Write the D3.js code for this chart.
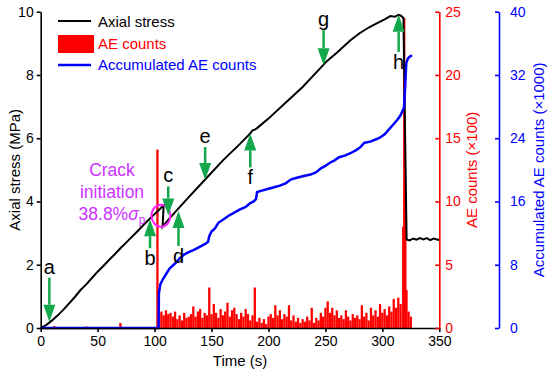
<!DOCTYPE html>
<html>
<head>
<meta charset="utf-8">
<script src="https://cdn.jsdelivr.net/npm/d3@7/dist/d3.min.js"></script>
<style>
  body { margin: 0; background: #fff; }
  svg { font-family: "Liberation Sans", Arial, sans-serif; }
</style>
</head>
<body>
<svg id="chart" width="550" height="371"></svg>
<script>
/* axial stress (MPa) vs time (s) */
var stressTime = [0,5,10,15,20,25,30,35,40,45,50,55,60,65,70,75,80,85,90,95,100,104,108,107,112,120,130,144,160,175,184,186,188,190,200,215,230,248,251,260,272,280,288,295,302,307,311,314,316,318.5,321.3,324,327,330,333,336,339,342,345,348,350];
var stressVal  = [0,0.1,0.24,0.4,0.58,0.78,0.98,1.2,1.38,1.58,1.78,1.96,2.15,2.33,2.52,2.7,2.88,3.06,3.25,3.43,3.6,3.74,3.88,3.2,3.42,3.74,4.14,4.68,5.3,5.82,6.15,6.25,6.27,6.32,6.62,7.12,7.62,8.31,8.43,8.7,9.1,9.32,9.5,9.63,9.76,9.86,9.84,9.9,9.88,9.8,2.8,2.77,2.83,2.79,2.84,2.8,2.84,2.78,2.83,2.8,2.78];

/* accumulated AE counts (x1000) */
var accTime = [0,103.5,103.8,105,107,110,113,116,119,122,126,130,135,140,144,147,148,150,153,156,160,165,170,175,180,184,187,189,190,195,200,205,210,215,220,225,230,237,242,246,250,254,258,262,267,272,277,281,284,290,295,298,302,305,307,310,313,316,319,320,321,322.5,324,326];
var accVal  = [0,0,4.4,5.5,6.1,6.8,7.5,7.9,8.3,8.8,9.3,9.6,9.9,10.3,10.6,10.9,11.6,12.2,12.6,13.3,13.7,14.2,14.6,15.0,15.3,15.8,16.0,16.3,17.2,17.4,17.6,17.8,18.0,18.3,18.8,19.0,19.2,19.4,19.7,20.2,20.5,20.9,21.2,21.6,21.8,22.1,22.5,22.9,23.4,23.6,23.9,24.1,24.5,25.0,25.3,25.8,26.3,26.9,27.9,30.5,33.5,34.1,34.3,34.5];

/* AE counts (x100) */
var aeTime = [12,40,70,102.5].concat(d3.range(104, 317, 2)).concat([318.3,319.2,320.2,321.2,323,325]);
var aeVal = [0.15,0.12,0.4,14.1,
  1.2,1.3,1.0,1.4,1.1,1.2,0.9,1.3,
  0.7,1.0,0.6,1.2,0.8,0.9,
  1.1,1.7,0.9,1.3,1.5,0.8,1.2,1.0,
  3.2,
  1.1,1.9,1.2,0.8,1.5,1.0,
  1.3,2.0,0.9,1.4,1.6,1.1,0.7,
  1.2,0.9,1.5,1.1,0.6,1.0,
  3.2,
  0.5,0.8,0.4,0.7,0.3,0.9,1.1,
  0.8,1.8,1.0,1.4,0.7,1.1,0.9,
  1.8,0.6,1.0,0.5,0.8,0.4,0.7,
  0.5,0.9,0.6,1.6,0.4,0.8,0.6,
  1.2,0.9,1.6,2.1,1.2,1.6,1.0,1.4,0.8,
  1.0,0.7,1.4,0.9,0.6,1.1,
  0.8,1.0,0.7,1.8,0.9,1.2,0.6,1.6,
  1.0,1.4,0.9,1.9,1.2,1.5,1.0,1.7,
  1.3,2.3,1.6,2.4,1.9,
  8.0,24.5,10.0,3.0,1.3,0.9];

var timeTicks = [0,50,100,150,200,250,300,350];
var stressTicks = [0,2,4,6,8,10];
var aeTicks = [0,5,10,15,20,25];
var accTicks = [0,8,16,24,32,40];

/* stage markers: time, stress at arrow tip, direction, shaft length */
var markLabel = ["a","b","c","d","e","f","g","h"];
var markTime  = [7.6,96,112,121,144.4,184,248.4,314.3];
var markStress= [0.2,3.44,3.56,3.7,4.68,6.15,8.31,9.9];
var markDir   = ["down","up","down","up","down","up","down","up"];
var markLen   = [44,29,29,35,33,34,35,37];

var svg = d3.select("#chart");
var plotL = 40.7, plotR = 439.3, plotT = 11.7, plotB = 328;

var x = d3.scaleLinear().domain([0, 350]).range([plotL, plotR]);
var yS = d3.scaleLinear().domain([0, 10]).range([plotB, plotT]);
var yR = d3.scaleLinear().domain([0, 25]).range([plotB, plotT]);
var yB = d3.scaleLinear().domain([0, 40]).range([plotB, plotT]);

var green = "#13a84c", magenta = "#cc33ff";
var barW = x(2) - x(0);

/* AE count bars */
svg.append("g").selectAll("rect")
    .data(aeTime)
  .enter().append("rect")
    .attr("x", function(d) { return x(d) - barW / 2; })
    .attr("width", barW)
    .attr("y", function(d, i) { return yR(aeVal[i]); })
    .attr("height", function(d, i) { return plotB - yR(aeVal[i]); })
    .attr("fill", "#ff0000");

/* stress line */
var stressLine = d3.line()
    .x(function(d) { return x(d); })
    .y(function(d, i) { return yS(stressVal[i]); });
svg.append("path")
    .attr("d", stressLine(stressTime))
    .attr("fill", "none")
    .attr("stroke", "#000")
    .attr("stroke-width", 2);

/* accumulated line */
var accLine = d3.line()
    .x(function(d) { return x(d); })
    .y(function(d, i) { return yB(accVal[i]); });
svg.append("path")
    .attr("d", accLine(accTime))
    .attr("fill", "none")
    .attr("stroke", "#0000ff")
    .attr("stroke-width", 2.5);

/* axes */
function styleAxis(g, color) {
  g.selectAll("path, line").attr("stroke", color).attr("stroke-width", 1.6);
  g.selectAll("text").attr("fill", color).style("font-size", "14px").style("font-family", "'Liberation Sans', Arial, sans-serif");
}

var gx = svg.append("g")
    .attr("transform", "translate(0," + plotB + ")")
    .call(d3.axisBottom(x).tickValues(timeTicks).tickSize(4).tickSizeOuter(0).tickPadding(4));
styleAxis(gx, "#000");

var gy = svg.append("g")
    .attr("transform", "translate(" + plotL + ",0)")
    .call(d3.axisLeft(yS).tickValues(stressTicks).tickSize(4).tickSizeOuter(0).tickPadding(3));
styleAxis(gy, "#000");

var gr = svg.append("g")
    .attr("transform", "translate(" + plotR + ",0)")
    .call(d3.axisRight(yR).tickValues(aeTicks).tickSize(-4).tickSizeOuter(0).tickPadding(6));
styleAxis(gr, "#ff0000");

var gb = svg.append("g")
    .attr("transform", "translate(499,0)")
    .call(d3.axisRight(yB).tickValues(accTicks).tickSize(-4).tickSizeOuter(0).tickPadding(11));
styleAxis(gb, "#0000ff");

/* axis titles */
var midY = (plotT + plotB) / 2;
svg.append("text")
    .attr("transform", "translate(20," + midY + ") rotate(-90)")
    .attr("text-anchor", "middle")
    .style("font-size", "15px")
    .text("Axial stress (MPa)");

svg.append("text")
    .attr("x", (plotL + plotR) / 2)
    .attr("y", 366)
    .attr("text-anchor", "middle")
    .style("font-size", "15px")
    .text("Time (s)");

svg.append("text")
    .attr("transform", "translate(477," + midY + ") rotate(-90)")
    .attr("text-anchor", "middle")
    .attr("fill", "#ff0000")
    .style("font-size", "15px")
    .text("AE counts (\u00d7100)");

svg.append("text")
    .attr("transform", "translate(544," + midY + ") rotate(-90)")
    .attr("text-anchor", "middle")
    .attr("fill", "#0000ff")
    .style("font-size", "15px")
    .text("Accumulated AE counts (\u00d71000)");

/* legend */
var legend = svg.append("g").style("font-size", "15px");
legend.append("line").attr("x1", 58).attr("x2", 91).attr("y1", 21).attr("y2", 21)
    .attr("stroke", "#000").attr("stroke-width", 2);
legend.append("text").attr("x", 98).attr("y", 26.5).text("Axial stress");
legend.append("rect").attr("x", 58).attr("y", 35).attr("width", 36).attr("height", 18)
    .attr("fill", "#ff0000");
legend.append("text").attr("x", 98).attr("y", 49).attr("fill", "#ff0000").text("AE counts");
legend.append("line").attr("x1", 58).attr("x2", 91).attr("y1", 65).attr("y2", 65)
    .attr("stroke", "#0000ff").attr("stroke-width", 2.5);
legend.append("text").attr("x", 98).attr("y", 70).attr("fill", "#0000ff").text("Accumulated AE counts");

/* crack initiation note */
svg.append("ellipse")
    .attr("cx", 161).attr("cy", 215.7).attr("rx", 9.5).attr("ry", 11)
    .attr("fill", "none").attr("stroke", "#ff22ff").attr("stroke-width", 2);

var note = svg.append("g").attr("fill", magenta).attr("text-anchor", "middle").style("font-size", "17.5px");
note.append("text").attr("x", 112).attr("y", 176.3).text("Crack");
note.append("text").attr("x", 112).attr("y", 197.5).text("initiation");
var pct = note.append("text").attr("x", 112).attr("y", 219.5);
pct.append("tspan").text("38.8%");
pct.append("tspan").style("font-style", "italic").text("\u03c3");
pct.append("tspan").attr("dy", 4).style("font-size", "12px").text("p");

/* stage arrows */
var marks = svg.append("g").selectAll("g")
    .data(markLabel)
  .enter().append("g");

marks.each(function(lab, i) {
  var g = d3.select(this);
  var tx = x(markTime[i]), ty = yS(markStress[i]);
  var sgn = markDir[i] == "down" ? -1 : 1;
  var head = 17, hw = 6;
  g.append("line")
      .attr("x1", tx).attr("x2", tx)
      .attr("y1", ty + sgn * head).attr("y2", ty + sgn * markLen[i])
      .attr("stroke", green).attr("stroke-width", 2.5);
  g.append("path")
      .attr("d", "M" + tx + "," + ty + "L" + (tx - hw) + "," + (ty + sgn * head) + "L" + (tx + hw) + "," + (ty + sgn * head) + "Z")
      .attr("fill", green);
  g.append("text")
      .attr("x", tx)
      .attr("y", markDir[i] == "down" ? ty - markLen[i] - 4 : ty + markLen[i] + 17)
      .attr("text-anchor", "middle")
      .style("font-size", "20px")
      .text(lab);
});
</script>
</body>
</html>
